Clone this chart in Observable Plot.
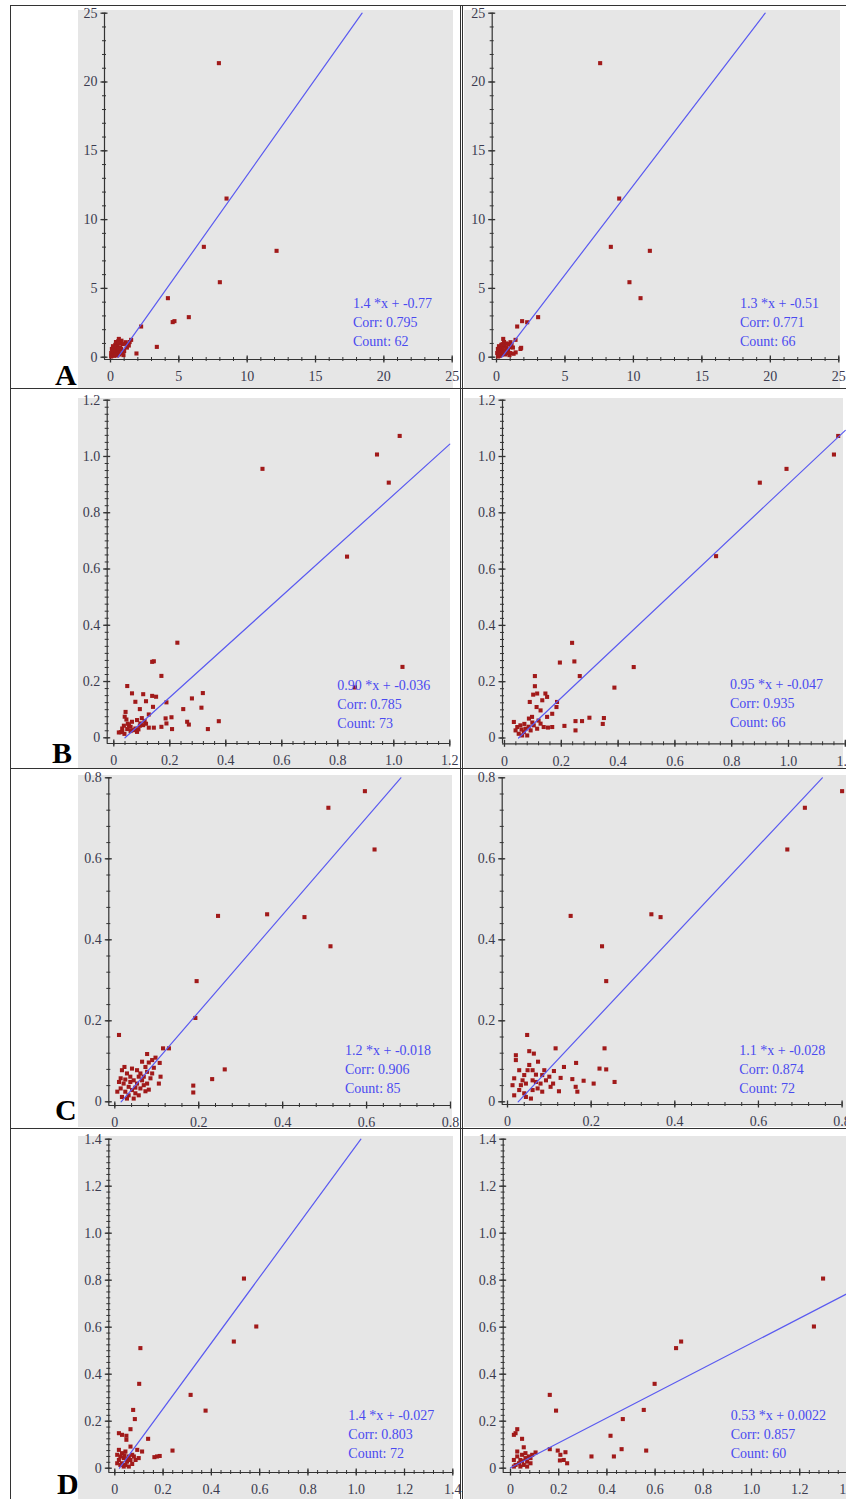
<!DOCTYPE html>
<html><head><meta charset="utf-8">
<script src="https://cdn.jsdelivr.net/npm/d3@7"></script>
<script src="https://cdn.jsdelivr.net/npm/@observablehq/plot@0.6"></script>
<style>
html,body{margin:0;padding:0;background:#fff;overflow:hidden}
#page{position:relative;width:846px;height:1499px;overflow:hidden;background:#fff}
.bg{position:absolute;background:#e6e6e6}
.ln{position:absolute;background:#333}
.panel{position:absolute}
.panel svg{overflow:visible}
.stats{position:absolute;font-family:"Liberation Serif","Times New Roman",serif;font-size:14px;line-height:19px;color:#4a4af0;white-space:pre}
.letter{position:absolute;font-family:"Liberation Serif","Times New Roman",serif;font-weight:bold;font-size:30px;line-height:30px;color:#000}
</style></head><body><div id="page"></div><script>
// ---------- DATA ----------
const rowLabels = ["A", "B", "C", "D"];
const rowMax = [25, 1.2, 0.8, 1.4];
const rowTicks = [[0,5,10,15,20,25],[0,0.2,0.4,0.6,0.8,1.0,1.2],[0,0.2,0.4,0.6,0.8],[0,0.2,0.4,0.6,0.8,1.0,1.2,1.4]];
const rowMinorX = [1, 0.04, 0.04, 0.04];
const rowMinorY = [1, 0.025, 0.04, 0.025];

const slopes = [1.4, 1.3, 0.90, 0.95, 1.2, 1.1, 1.4, 0.53];
const intercepts = [-0.77, -0.51, -0.036, -0.047, -0.018, -0.028, -0.027, 0.0022];
const equations = ["1.4 *x + -0.77", "1.3 *x + -0.51", "0.90 *x + -0.036", "0.95 *x + -0.047", "1.2 *x + -0.018", "1.1 *x + -0.028", "1.4 *x + -0.027", "0.53 *x + 0.0022"];
const corrs = ["0.795", "0.771", "0.785", "0.935", "0.906", "0.874", "0.803", "0.857"];
const counts = [62, 66, 73, 66, 85, 72, 72, 60];

const ptsA1 = [[7.93,21.37],[8.49,11.53],[6.83,8.02],[12.15,7.73],[8.0,5.45],[4.2,4.29],[5.73,2.91],[4.55,2.55],[4.68,2.62],[2.24,2.23],[3.39,0.75],[1.9,0.27],[0.61,1.33],[1.51,1.26],[1.1,1.09],[0.44,0.97],[0.24,0.73],[0.78,0.6],[1.34,0.85],[0.12,0.24],[0.37,0.36],[0.85,0.29],[0.49,0.12],[0.05,0.05],[0.3,0.5],[0.5,0.8],[0.7,1.0],[0.9,0.95],[1.2,0.7],[0.2,0.15],[0.4,0.6],[0.6,0.45],[0.15,0.4],[0.35,0.9],[0.55,1.15],[0.25,0.1],[0.45,0.25],[1.0,0.45],[0.65,0.2],[0.1,0.6],[0.8,1.2],[1.4,1.1],[0.3,0.3],[0.18,0.8],[0.7,0.7],[0.95,0.15],[0.05,0.3],[0.4,1.1],[0.2,0.45],[0.58,0.62],[0.33,0.18],[1.15,0.98],[0.08,0.12],[0.62,1.05]];
const ptsA2 = [[7.57,21.37],[8.96,11.53],[8.35,8.02],[11.2,7.73],[9.71,5.45],[10.52,4.29],[3.04,2.91],[2.24,2.54],[1.87,2.62],[1.51,2.23],[1.75,0.6],[1.8,0.68],[1.39,1.26],[0.49,1.33],[1.02,1.09],[1.02,0.73],[0.3,0.5],[0.5,0.8],[0.7,1.0],[0.9,0.95],[1.2,0.7],[0.2,0.15],[0.4,0.6],[0.6,0.45],[0.15,0.4],[0.35,0.9],[0.55,1.1],[0.25,0.1],[0.45,0.25],[1.0,0.3],[0.65,0.2],[0.1,0.6],[0.8,0.3],[1.4,0.35],[0.3,0.3],[0.18,0.8],[0.7,0.7],[0.95,0.15],[0.05,0.3],[0.4,0.2],[0.12,0.05],[0.6,0.9],[0.85,0.55],[1.1,0.9],[0.25,0.65],[0.75,0.45],[1.25,0.25],[0.45,0.95],[0.15,0.2],[0.55,0.35]];
const ptsB1 = [[1.021,1.073],[0.940,1.007],[0.982,0.907],[0.531,0.956],[0.833,0.644],[1.031,0.252],[0.861,0.179],[0.227,0.338],[0.137,0.270],[0.143,0.272],[0.170,0.220],[0.048,0.184],[0.065,0.158],[0.105,0.155],[0.137,0.149],[0.151,0.146],[0.318,0.159],[0.279,0.140],[0.077,0.128],[0.115,0.130],[0.188,0.126],[0.140,0.110],[0.093,0.102],[0.042,0.092],[0.248,0.102],[0.313,0.107],[0.125,0.083],[0.039,0.075],[0.185,0.069],[0.206,0.073],[0.262,0.057],[0.268,0.047],[0.375,0.059],[0.336,0.031],[0.208,0.031],[0.170,0.039],[0.188,0.051],[0.125,0.036],[0.143,0.036],[0.083,0.063],[0.095,0.051],[0.105,0.045],[0.065,0.057],[0.054,0.045],[0.036,0.043],[0.030,0.033],[0.048,0.031],[0.071,0.027],[0.083,0.021],[0.060,0.039],[0.018,0.019],[0.030,0.021],[0.038,0.014],[0.060,0.024],[0.077,0.033],[0.093,0.043],[0.110,0.060],[0.100,0.070],[0.050,0.050],[0.045,0.065],[0.088,0.030],[0.115,0.050],[0.025,0.020]];
const ptsB2 = [[1.175,1.073],[1.160,1.007],[0.993,0.956],[0.899,0.907],[0.745,0.646],[0.455,0.252],[0.387,0.179],[0.238,0.338],[0.246,0.272],[0.195,0.268],[0.265,0.220],[0.107,0.220],[0.107,0.184],[0.185,0.128],[0.183,0.110],[0.144,0.158],[0.150,0.146],[0.133,0.134],[0.101,0.154],[0.115,0.158],[0.089,0.128],[0.113,0.110],[0.127,0.098],[0.086,0.069],[0.097,0.075],[0.168,0.086],[0.150,0.075],[0.299,0.072],[0.273,0.060],[0.250,0.060],[0.350,0.071],[0.346,0.050],[0.250,0.027],[0.211,0.043],[0.153,0.037],[0.168,0.039],[0.033,0.057],[0.039,0.027],[0.045,0.039],[0.056,0.045],[0.068,0.021],[0.050,0.015],[0.074,0.033],[0.080,0.009],[0.062,0.009],[0.092,0.027],[0.103,0.045],[0.115,0.033],[0.127,0.051],[0.138,0.039],[0.060,0.030],[0.070,0.050],[0.085,0.040],[0.120,0.062],[0.098,0.055]];
const ptsC1 = [[0.596,0.767],[0.509,0.726],[0.619,0.623],[0.246,0.459],[0.363,0.463],[0.452,0.456],[0.514,0.384],[0.195,0.298],[0.192,0.207],[0.010,0.165],[0.262,0.080],[0.232,0.056],[0.187,0.040],[0.187,0.023],[0.129,0.132],[0.115,0.132],[0.077,0.118],[0.097,0.109],[0.107,0.096],[0.081,0.097],[0.089,0.103],[0.093,0.084],[0.109,0.062],[0.105,0.045],[0.073,0.026],[0.017,0.078],[0.023,0.086],[0.029,0.070],[0.037,0.062],[0.045,0.053],[0.053,0.045],[0.061,0.033],[0.069,0.041],[0.014,0.058],[0.021,0.045],[0.033,0.037],[0.041,0.029],[0.049,0.021],[0.014,0.033],[0.025,0.025],[0.017,0.012],[0.033,0.016],[0.045,0.008],[0.057,0.016],[0.065,0.053],[0.041,0.082],[0.053,0.078],[0.061,0.070],[0.069,0.062],[0.077,0.074],[0.085,0.058],[0.073,0.086],[0.065,0.099],[0.010,0.049],[0.006,0.025],[0.029,0.008],[0.077,0.045],[0.089,0.070],[0.037,0.049],[0.057,0.062],[0.025,0.055],[0.049,0.035],[0.081,0.030]];
const ptsC2 = [[0.800,0.767],[0.711,0.726],[0.669,0.623],[0.151,0.459],[0.344,0.463],[0.366,0.456],[0.226,0.384],[0.236,0.298],[0.047,0.165],[0.115,0.132],[0.232,0.132],[0.164,0.096],[0.135,0.086],[0.220,0.082],[0.236,0.080],[0.256,0.049],[0.206,0.045],[0.182,0.052],[0.155,0.056],[0.167,0.025],[0.163,0.037],[0.123,0.026],[0.109,0.045],[0.127,0.059],[0.083,0.066],[0.103,0.037],[0.111,0.076],[0.020,0.115],[0.020,0.103],[0.052,0.125],[0.063,0.119],[0.073,0.099],[0.052,0.091],[0.028,0.078],[0.060,0.078],[0.068,0.067],[0.016,0.058],[0.036,0.053],[0.060,0.053],[0.012,0.041],[0.044,0.045],[0.079,0.045],[0.028,0.029],[0.060,0.029],[0.083,0.025],[0.016,0.016],[0.044,0.012],[0.040,0.021],[0.092,0.053],[0.072,0.033],[0.100,0.062],[0.088,0.078],[0.040,0.066],[0.048,0.078],[0.068,0.049],[0.056,0.008],[0.032,0.041]];
const ptsD1 = [[0.535,0.807],[0.586,0.603],[0.493,0.539],[0.314,0.312],[0.376,0.245],[0.106,0.511],[0.101,0.359],[0.076,0.248],[0.083,0.209],[0.065,0.166],[0.138,0.125],[0.239,0.075],[0.175,0.050],[0.164,0.047],[0.186,0.052],[0.017,0.149],[0.030,0.142],[0.048,0.138],[0.048,0.121],[0.093,0.078],[0.113,0.071],[0.099,0.043],[0.079,0.050],[0.065,0.092],[0.072,0.057],[0.010,0.057],[0.017,0.035],[0.023,0.050],[0.030,0.021],[0.037,0.043],[0.044,0.071],[0.051,0.028],[0.058,0.050],[0.023,0.014],[0.037,0.007],[0.010,0.021],[0.065,0.035],[0.086,0.035],[0.072,0.018],[0.044,0.014],[0.058,0.007],[0.030,0.064],[0.017,0.078],[0.040,0.055],[0.052,0.040]];
const ptsD2 = [[1.297,0.807],[1.259,0.603],[0.708,0.539],[0.687,0.511],[0.598,0.359],[0.163,0.312],[0.189,0.245],[0.553,0.248],[0.466,0.209],[0.415,0.138],[0.461,0.081],[0.563,0.075],[0.336,0.050],[0.429,0.050],[0.163,0.081],[0.196,0.075],[0.207,0.057],[0.205,0.033],[0.228,0.068],[0.235,0.021],[0.221,0.035],[0.021,0.149],[0.028,0.166],[0.014,0.142],[0.048,0.125],[0.055,0.089],[0.104,0.067],[0.014,0.035],[0.028,0.050],[0.035,0.021],[0.041,0.035],[0.048,0.057],[0.055,0.014],[0.062,0.043],[0.069,0.028],[0.076,0.050],[0.083,0.021],[0.090,0.057],[0.069,0.007],[0.041,0.007],[0.021,0.014],[0.028,0.071],[0.062,0.064],[0.083,0.043],[0.014,0.007],[0.048,0.030]];
const panelPoints = [ptsA1, ptsA2, ptsB1, ptsB2, ptsC1, ptsC2, ptsD1, ptsD2];

// ---------- LAYOUT (page pixels) ----------
// svg box, axis-line positions, and where 0 / max fall
const geom = [
  {left:10, top:5,    w:452, h:383, frameLeft:104,   x0:110,   xMax:451.7, frameBottom:359,    y0:356.7,  yMax:12.7},
  {left:463,top:5,    w:390, h:383, frameLeft:491.7, x0:496,   xMax:838.3, frameBottom:359,    y0:356.7,  yMax:12.7},
  {left:10, top:388,  w:452, h:380, frameLeft:106.7, x0:113.3, xMax:449.3, frameBottom:743,    y0:737.3,  yMax:399.7},
  {left:463,top:388,  w:390, h:380, frameLeft:502,   x0:504,   xMax:844.8, frameBottom:743.3,  y0:737.5,  yMax:399.7},
  {left:10, top:768,  w:452, h:360, frameLeft:108.3, x0:114.3, xMax:450,   frameBottom:1105,   y0:1101.3, yMax:777.3},
  {left:463,top:768,  w:390, h:360, frameLeft:501.7, x0:507,   xMax:841.6, frameBottom:1104,   y0:1101.3, yMax:777.3},
  {left:10, top:1128, w:452, h:371, frameLeft:108.3, x0:114.3, xMax:452.3, frameBottom:1472,   y0:1467.7, yMax:1138.7},
  {left:463,top:1128, w:390, h:371, frameLeft:502.7, x0:510,   xMax:847.4, frameBottom:1472,   y0:1467.7, yMax:1138.7}
];
const greyBoxes = [[78,10,375,378],[464,10,376,378],[78,398,372,370],[464,398,379,370],[78,775,374,352],[464,775,382,352],[78,1136,375,363],[464,1136,382,363]];
const statsPos = [[353,294.4],[740,294.4],[337.3,675.7],[730,675],[345,1041],[739.3,1041],[348.3,1406.4],[730.7,1406.4]];
const letterPos = [[55,360],[52,738],[55,1095],[57,1469]];

const page = document.getElementById("page");
function box(cls, l, t, w, h) {
  const d = document.createElement("div");
  d.className = cls;
  Object.assign(d.style, {left: l + "px", top: t + "px", width: w + "px", height: h + "px"});
  page.appendChild(d);
  return d;
}
greyBoxes.forEach(b => box("bg", ...b));
// frame lines
box("ln", 10, 5, 836, 1);
box("ln", 10, 5, 1, 1494);
box("ln", 10, 388, 836, 1);
box("ln", 10, 768, 836, 1);
box("ln", 10, 1128, 836, 1);
box("ln", 460, 5, 1, 1494);
box("ln", 462, 5, 1, 1494);

const fmt = (row) => (d) => row === 0 ? String(d) : (d === 0 ? "0" : d.toFixed(1));

for (let i = 0; i < 8; i++) {
  const row = Math.floor(i / 2);
  const g = geom[i];
  const dmax = rowMax[row];
  const majors = rowTicks[row];
  const minorX = d3.range(0, dmax + 1e-9, rowMinorX[row]);
  const minorY = d3.range(0, dmax + 1e-9, rowMinorY[row]);
  const frameW = g.xMax - g.frameLeft;
  const frameH = g.frameBottom - g.yMax;
  const a = slopes[i], b = intercepts[i];
  const xs = Math.max(0, -b / a);
  const xe = Math.min(dmax, (dmax - b) / a);
  const lineData = [{x: xs, y: a * xs + b}, {x: xe, y: a * xe + b}];
  const pts = panelPoints[i];
  const axisColor = "#333";
  const chart = Plot.plot({
    width: g.w,
    height: g.h,
    marginLeft: g.frameLeft - g.left,
    marginRight: g.left + g.w - g.xMax,
    marginTop: g.yMax - g.top,
    marginBottom: g.top + g.h - g.frameBottom,
    x: {domain: [0, dmax], insetLeft: g.x0 - g.frameLeft, ticks: majors, tickSize: 0, tickPadding: 12, tickFormat: fmt(row), label: null},
    y: {domain: [0, dmax], insetBottom: g.frameBottom - g.y0, ticks: majors, tickSize: 0, tickPadding: 7, tickFormat: fmt(row), label: null},
    style: {background: "transparent", overflow: "visible", fontFamily: "'Liberation Serif','Times New Roman',serif", fontSize: "14px", color: "#3b3b4f"},
    marks: [
      Plot.ruleX([0], {dx: -(g.x0 - g.frameLeft), stroke: axisColor, strokeWidth: 1.2}),
      Plot.ruleY([0], {dy: g.frameBottom - g.y0, stroke: axisColor, strokeWidth: 1.2}),
      Plot.tickX(minorX, {x: d => d, insetTop: frameH - 4, dy: g.frameBottom - g.y0 + 2 - (g.frameBottom - g.y0), stroke: axisColor}),
      Plot.tickX(majors, {x: d => d, insetTop: frameH - 7, dy: 3.5, stroke: axisColor, strokeWidth: 1.3}),
      Plot.tickY(minorY, {y: d => d, insetRight: frameW - 4, dx: -2, stroke: axisColor}),
      Plot.tickY(majors, {y: d => d, insetRight: frameW - 7, dx: -3.5, stroke: axisColor, strokeWidth: 1.3}),
      Plot.dot(pts, {x: d => d[0], y: d => d[1], symbol: "square", r: 2.3, fill: "#a11a1a"}),
      Plot.line(lineData, {x: "x", y: "y", stroke: "#5a5af0", strokeWidth: 1.2})
    ]
  });
  const wrap = box("panel", g.left, g.top, g.w, g.h);
  wrap.appendChild(chart);
  const s = document.createElement("div");
  s.className = "stats";
  s.style.left = statsPos[i][0] + "px";
  s.style.top = statsPos[i][1] + "px";
  s.textContent = equations[i] + "\nCorr: " + corrs[i] + "\nCount: " + counts[i];
  page.appendChild(s);
}
rowLabels.forEach((L, r) => {
  const d = document.createElement("div");
  d.className = "letter";
  d.style.left = letterPos[r][0] + "px";
  d.style.top = letterPos[r][1] + "px";
  d.textContent = L;
  page.appendChild(d);
});
</script></body></html>
